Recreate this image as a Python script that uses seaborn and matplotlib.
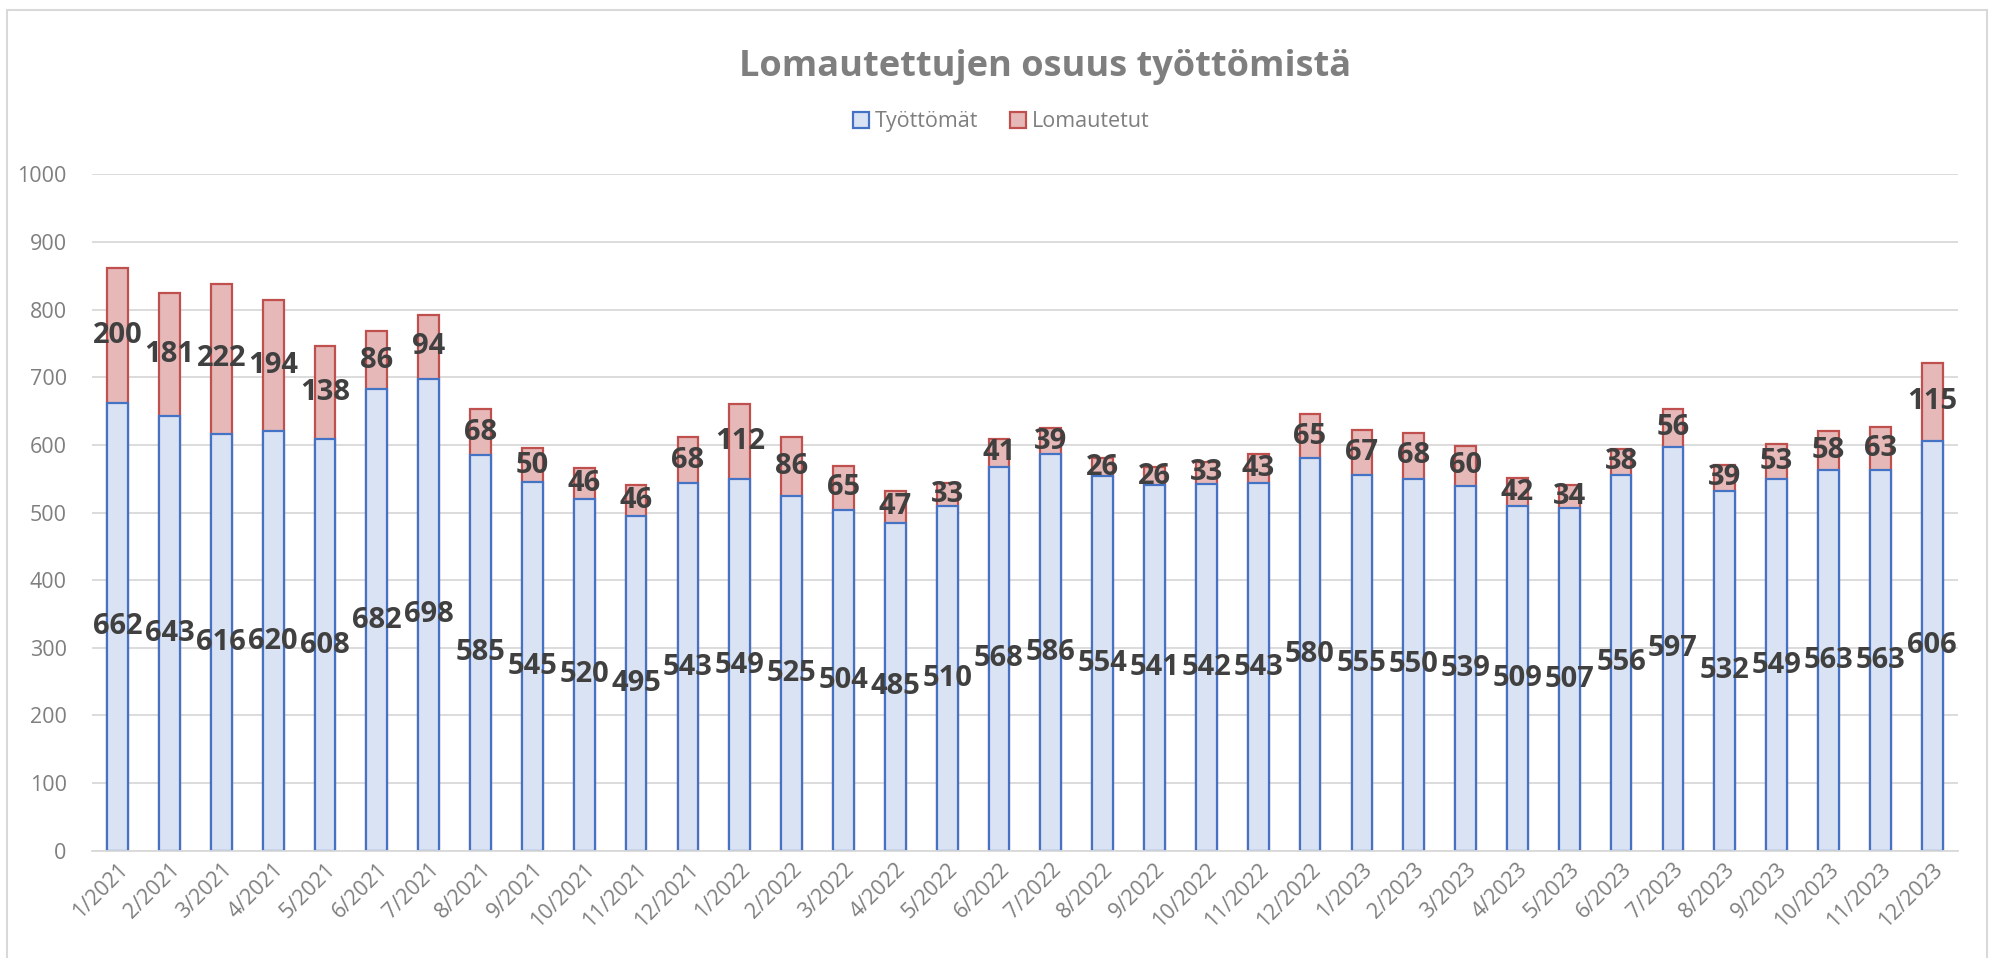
import matplotlib
matplotlib.use("Agg")
import matplotlib.pyplot as plt
from matplotlib.patches import Patch, Rectangle
import pandas as pd
import seaborn as sns

# Monthly data (thousands)
months = [f"{m}/{y}" for y in (2021, 2022, 2023) for m in range(1, 13)]
tyottomat = [662, 643, 616, 620, 608, 682, 698, 585, 545, 520, 495, 543,
             549, 525, 504, 485, 510, 568, 586, 554, 541, 542, 543, 580,
             555, 550, 539, 509, 507, 556, 597, 532, 549, 563, 563, 606]
lomautetut = [200, 181, 222, 194, 138, 86, 94, 68, 50, 46, 46, 68,
              112, 86, 65, 47, 33, 41, 39, 26, 26, 33, 43, 65,
              67, 68, 60, 42, 34, 38, 56, 39, 53, 58, 63, 115]

df = pd.DataFrame({"Kuukausi": months, "Työttömät": tyottomat, "Lomautetut": lomautetut})
df["Yhteensä"] = df["Työttömät"] + df["Lomautetut"]

blue_fill, blue_edge = "#dae3f3", "#4472c4"
red_fill, red_edge = "#e6b9b8", "#c0504d"
grey_txt = "#7f7f7f"
label_col = "#404040"

sns.set_style("white")
plt.rcParams["font.family"] = ["Open Sans", "DejaVu Sans"]

fig = plt.figure(figsize=(19.94, 9.58), dpi=100)
ax = fig.add_axes([0.046, 0.112, 0.936, 0.706])

# stacked bars: total first (red), then unemployed on top of it (blue)
sns.barplot(data=df, x="Kuukausi", y="Yhteensä", color=red_fill, edgecolor=red_edge,
            linewidth=1.6, width=0.4, saturation=1, ax=ax)
sns.barplot(data=df, x="Kuukausi", y="Työttömät", color=blue_fill, edgecolor=blue_edge,
            linewidth=1.6, width=0.4, saturation=1, ax=ax)

# data labels in the middle of each segment
for i, (t, l) in enumerate(zip(tyottomat, lomautetut)):
    ax.text(i, t / 2, str(t), ha="center", va="center", fontsize=21,
            fontweight="bold", color=label_col)
    ax.text(i, t + l / 2, str(l), ha="center", va="center", fontsize=21,
            fontweight="bold", color=label_col)

ax.set_ylim(0, 1000)
ax.set_xlim(-0.5, len(months) - 0.5)
ax.set_yticks(range(0, 1001, 100))
ax.yaxis.grid(True, color="#d9d9d9", linewidth=1.3)
ax.set_axisbelow(True)
for s in ["top", "right", "left"]:
    ax.spines[s].set_visible(False)
ax.spines["bottom"].set_color("#d9d9d9")
ax.spines["bottom"].set_linewidth(1.3)
ax.set_xlabel("")
ax.set_ylabel("")
ax.tick_params(axis="both", length=0, colors=grey_txt, labelsize=15.5)
ax.tick_params(axis="y", pad=18)
ax.tick_params(axis="x", pad=6)
plt.setp(ax.get_xticklabels(), rotation=45, ha="right", rotation_mode="anchor")

fig.text(0.524, 0.93, "Lomautettujen osuus työttömistä", ha="center", va="center",
         fontsize=26, fontweight="bold", color=grey_txt)

handles = [Patch(facecolor=blue_fill, edgecolor=blue_edge, linewidth=1.6, label="Työttömät"),
           Patch(facecolor=red_fill, edgecolor=red_edge, linewidth=1.6, label="Lomautetut")]
fig.legend(handles=handles, loc="center", bbox_to_anchor=(0.502, 0.873), ncol=2,
           frameon=False, fontsize=15.5, labelcolor=grey_txt, handlelength=0.75,
           handleheight=0.75, handletextpad=0.25, columnspacing=1.5)

# chart area border
fig.patches.append(Rectangle((0.0035, -0.01), 0.993, 0.9995, transform=fig.transFigure,
                             fill=False, edgecolor="#d9d9d9", linewidth=1.5))

fig.savefig("out.png", dpi=100)
